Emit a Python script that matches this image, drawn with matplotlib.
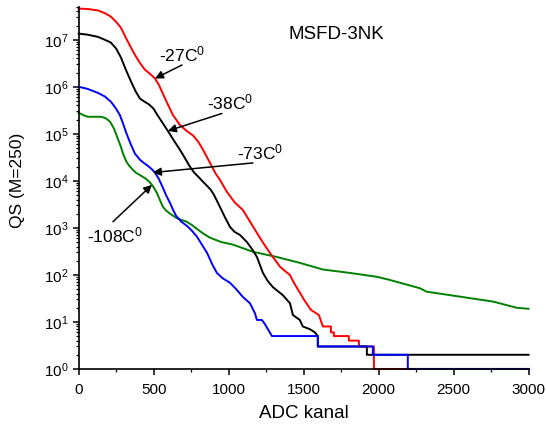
import numpy as np
import matplotlib
matplotlib.use("Agg")
import matplotlib.pyplot as plt
from matplotlib.ticker import MultipleLocator, LogLocator, NullFormatter

plt.rcParams['font.family'] = ['Liberation Sans', 'DejaVu Sans']
plt.rcParams['mathtext.default'] = 'regular'

# curves: ADC channel vs QS
red_x = [0, 60, 129, 180, 215, 250, 282, 315, 349, 380, 409, 442, 475, 509, 535, 562,
         595, 629, 675, 720, 765, 800, 829, 860, 889, 915, 942, 989, 1040, 1095, 1140,
         1189, 1230, 1275, 1342, 1369, 1409, 1435, 1475, 1502, 1549, 1602, 1629, 1682,
         1682, 1702, 1702, 1802, 1802, 1869, 1869, 1969, 1969, 3000]
red_y = [4.6e7, 4.5e7, 4.2e7, 3.6e7, 3.1e7, 2.4e7, 1.8e7, 1.1e7, 6.8e6, 4.5e6, 3.2e6,
         2.3e6, 1.9e6, 1.5e6, 1.1e6, 7.1e5, 4.2e5, 2.5e5, 1.55e5, 1.15e5, 9.1e4, 6.6e4,
         4.6e4, 3.0e4, 2.0e4, 1.4e4, 1.05e4, 5.8e3, 3.5e3, 2.4e3, 1.4e3, 780, 480, 295,
         150, 126, 100, 68, 42, 30, 18, 14, 8, 8, 6, 6, 5, 5, 4, 4, 3, 3, 1, 1]

black_x = [0, 60, 129, 180, 215, 250, 282, 315, 349, 380, 409, 440, 470, 500, 522, 560,
           595, 635, 675, 710, 742, 770, 800, 830, 855, 880, 900, 920, 942, 975, 1009,
           1040, 1075, 1122, 1160, 1189, 1229, 1260, 1295, 1362, 1409, 1429, 1475, 1495,
           1542, 1575, 1595, 1595, 1922, 1922, 3000]
black_y = [1.35e7, 1.28e7, 1.15e7, 9.8e6, 8.7e6, 6.5e6, 4.2e6, 2.3e6, 1.3e6, 8.0e5,
           5.6e5, 4.8e5, 4.2e5, 3.4e5, 2.6e5, 1.7e5, 1.15e5, 7.2e4, 4.6e4, 3.0e4, 2.0e4,
           1.5e4, 1.2e4, 9.5e3, 7.9e3, 6.5e3, 5.2e3, 3.9e3, 2.8e3, 1.7e3, 1.05e3, 820,
           710, 500, 340, 240, 110, 75, 55, 37, 25, 14, 11, 8, 7, 6, 5, 3, 3, 2, 2]

blue_x = [0, 60, 129, 175, 215, 245, 275, 295, 315, 345, 375, 409, 435, 460, 485, 509,
          535, 562, 585, 609, 630, 650, 685, 722, 755, 789, 820, 856, 890, 922, 960, 1009,
          1050, 1095, 1142, 1175, 1189, 1222, 1242, 1262, 1289, 1595, 1595, 1962, 1962,
          2195, 2195, 3000]
blue_y = [1.0e6, 9.0e5, 7.4e5, 6.2e5, 4.8e5, 3.6e5, 2.5e5, 1.7e5, 1.1e5, 6.3e4, 3.8e4,
          2.8e4, 2.4e4, 2.1e4, 1.8e4, 1.5e4, 1.1e4, 7.1e3, 4.8e3, 3.4e3, 2.4e3, 1.8e3,
          1.35e3, 1.1e3, 870, 650, 450, 295, 170, 110, 85, 68, 50, 34, 25, 15.5, 11, 11,
          9, 7, 5, 5, 3, 3, 2, 2, 1, 1]

green_x = [0, 30, 60, 149, 180, 210, 235, 255, 280, 300, 320, 342, 380, 420, 450, 475,
           500, 522, 542, 562, 585, 609, 655, 720, 755, 789, 830, 875, 950, 1029, 1162,
           1322, 1475, 1629, 1809, 1989, 2075, 2275, 2320, 2610, 2765, 2920, 3000]
green_y = [2.8e5, 2.5e5, 2.3e5, 2.3e5, 2.15e5, 1.8e5, 1.3e5, 8.9e4, 5.5e4, 3.5e4, 2.5e4,
           2.0e4, 1.5e4, 1.26e4, 1.1e4, 9.3e3, 7.3e3, 5.5e3, 3.9e3, 2.8e3, 2.3e3, 2.0e3,
           1.6e3, 1.35e3, 1.15e3, 950, 760, 620, 500, 440, 310, 240, 180, 130, 110, 91,
           78, 52, 44, 32, 27, 20, 19]

labels = ['-27C$^0$', '-38C$^0$', '-73C$^0$', '-108C$^0$']

fig = plt.figure(figsize=(5.46, 4.28), dpi=100)
ax = fig.add_axes([0.144, 0.138, 0.824, 0.846])

line_kw = dict(lw=1.4, clip_on=False, solid_joinstyle='round')
ax.plot(green_x, green_y, color='#008000', **line_kw)
ax.plot(red_x, red_y, color='#ff0000', **line_kw)
ax.plot(black_x, black_y, color='black', **line_kw)
ax.plot(blue_x, blue_y, color='#0000ff', **line_kw)

ax.set_yscale('log')
ax.set_xlim(0, 3000)
ax.set_ylim(1, 5e7)
ax.xaxis.set_major_locator(MultipleLocator(500))
ax.xaxis.set_minor_locator(MultipleLocator(250))
ax.yaxis.set_major_locator(LogLocator(base=10, numticks=20))
ax.yaxis.set_minor_locator(LogLocator(base=10, subs=np.arange(2, 10), numticks=20))
ax.yaxis.set_minor_formatter(NullFormatter())

for s in ['top', 'right']:
    ax.spines[s].set_visible(False)
for s in ['left', 'bottom']:
    ax.spines[s].set_linewidth(1.2)
ax.tick_params(which='major', length=4, width=1.1, labelsize=11, direction='out')
ax.tick_params(which='minor', length=2.2, width=0.9, direction='out')
ax.tick_params(axis='x', which='major', pad=6)

ax.set_xlabel('ADC kanal', fontsize=13.5, labelpad=6)
ax.set_ylabel('QS (M=250)', fontsize=12.5)
ax.yaxis.set_label_coords(-0.119, 0.522)

ax.text(1722, 1.3e7, 'MSFD-3NK', fontsize=13.5, ha='center', va='center')

# annotation texts and arrows (tail -> tip on the curve)
txt_pos = [(689, 4.8e6), (1009, 4.6e5), (1209, 4.0e4), (242, 7.0e2)]
arr_tail = [(689, 2.9e6), (955, 2.7e5), (1162, 2.4e4), (229, 1.35e3)]
arr_tip = [(509, 1.5e6), (595, 1.15e5), (495, 1.5e4), (489, 8.2e3)]
for lab, tp, tl, tip in zip(labels, txt_pos, arr_tail, arr_tip):
    ax.text(tp[0], tp[1], lab, fontsize=12.5, ha='center', va='center')
    ax.annotate('', xy=tip, xytext=tl,
                arrowprops=dict(arrowstyle='-|>', color='black', lw=1.1,
                                mutation_scale=12, shrinkA=0, shrinkB=0))

fig.savefig('out.png', dpi=100)
